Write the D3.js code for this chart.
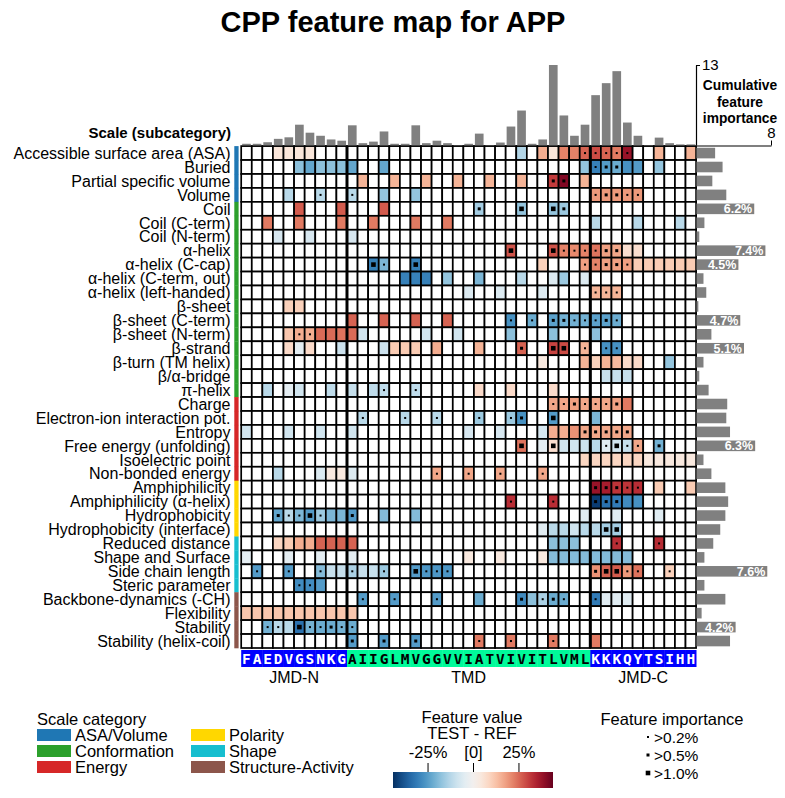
<!DOCTYPE html>
<html>
<head>
<meta charset="utf-8">
<script src="https://cdn.jsdelivr.net/npm/d3@7"></script>
<style>
body { margin: 0; background: #fff; }
text { font-family: Arial, "Liberation Sans", sans-serif; }
</style>
</head>
<body>
<div class="container"></div>
<script>
// sequence parts
const jmdN = ['F','A','E','D','V','G','S','N','K','G']
const tmd = ['A','I','I','G','L','M','V','G','G','V','V','I','A','T','V','I','V','I','T','L','V','M','L']
const jmdC = ['K','K','K','Q','Y','T','S','I','H','H']

const categories = ['ASA/Volume', 'Conformation', 'Energy', 'Polarity', 'Shape', 'Structure-Activity']
const categoryColors = ['#1f77b4', '#2ca02c', '#d62728', '#ffd700', '#17becf', '#8c564b']

const scales = ['Accessible surface area (ASA)', 'Buried', 'Partial specific volume', 'Volume',
  'Coil', 'Coil (C-term)', 'Coil (N-term)', 'α-helix', 'α-helix (C-cap)', 'α-helix (C-term, out)',
  'α-helix (left-handed)', 'β-sheet', 'β-sheet (C-term)', 'β-sheet (N-term)', 'β-strand',
  'β-turn (TM helix)', 'β/α-bridge', 'π-helix', 'Charge', 'Electron-ion interaction pot.',
  'Entropy', 'Free energy (unfolding)', 'Isoelectric point', 'Non-bonded energy', 'Amphiphilicity',
  'Amphiphilicity (α-helix)', 'Hydrophobicity', 'Hydrophobicity (interface)', 'Reduced distance',
  'Shape and Surface', 'Side chain length', 'Steric parameter', 'Backbone-dynamics (-CH)',
  'Flexibility', 'Stability', 'Stability (helix-coil)']

const scaleCategory = ['ASA/Volume','ASA/Volume','ASA/Volume','ASA/Volume',
  'Conformation','Conformation','Conformation','Conformation','Conformation','Conformation','Conformation',
  'Conformation','Conformation','Conformation','Conformation','Conformation','Conformation','Conformation',
  'Energy','Energy','Energy','Energy','Energy','Energy',
  'Polarity','Polarity','Polarity','Polarity',
  'Shape','Shape','Shape','Shape',
  'Structure-Activity','Structure-Activity','Structure-Activity','Structure-Activity']

// feature importance per scale (%)
const scaleImportance = [2.0, 2.8, 1.7, 3.2, 6.2, 0.85, 0.3, 7.4, 4.5, 0.75, 1.05, 0.2, 4.7, 1.6, 5.1,
  0.75, 0.3, 1.3, 3.3, 3.2, 3.6, 6.3, 0.75, 1.6, 3.1, 3.4, 3.1, 2.55, 1.8, 0.85, 7.6, 0.85, 3.1, 0.55, 4.2, 3.6]

// cumulative feature importance per residue position
const positionImportance = [0.2, 0.2, 0.45, 1.0, 1.25, 3.3, 2.0, 1.5, 0.9, 0.7, 3.2, 0.3, 0.55, 2.2, 0.2,
  0.2, 3.2, 0.3, 0.7, 0.3, 0, 0.2, 1.85, 0, 0.4, 3.0, 5.6, 0.2, 0.9, 13.0, 4.8, 1.5, 3.3, 8.1, 10.05,
  12.0, 3.65, 1.5, 0, 1.2, 0.3, 0.1, 0.1]

// [scale index, position, feature value (%), importance level]
const featureCells = [
  [0,3,5,0],[0,4,5,0],[0,5,5,0],[0,6,5,0],[0,26,-13,0],[0,28,16,0],[0,29,5,0],[0,30,22,0],[0,31,22,0],
  [0,32,26,1],[0,33,29,1],[0,34,26,1],[0,35,23,1],[0,36,38,1],[0,39,15,0],[0,42,15,0],
  [1,5,-18,0],[1,6,-23,0],[1,7,-18,0],[1,8,-18,0],[1,9,-18,0],[1,10,-23,0],[1,13,-23,0],[1,32,-17,0],
  [1,33,-30,1],[1,34,-25,2],[1,35,-22,2],[1,36,-27,0],[1,37,-25,0],[1,39,-17,0],
  [2,11,15,0],[2,14,15,0],[2,17,15,0],[2,20,15,0],[2,23,15,0],[2,26,15,0],[2,29,31,2],[2,30,41,2],[2,32,15,0],
  [3,4,-12,0],[3,7,-12,1],[3,10,-12,1],[3,13,-17,0],[3,16,-17,0],[3,33,19,1],[3,34,19,2],[3,35,19,2],
  [3,36,19,1],[3,37,19,1],
  [4,5,27,0],[4,9,27,0],[4,13,27,0],[4,22,-15,2],[4,26,-17,3],[4,29,-17,3],[4,30,-16,2],
  [5,2,23,0],[5,5,23,0],[5,9,23,0],[5,12,23,0],[5,16,23,0],[5,19,23,0],[5,33,-12,0],[5,37,-12,0],[5,41,-12,0],
  [6,3,-7,0],[6,6,-7,0],[6,10,-7,0],
  [7,25,28,3],[7,29,28,3],[7,30,22,1],[7,31,21,1],[7,32,22,1],[7,33,24,1],[7,34,18,2],[7,35,17,2],
  [7,36,7,0],[7,37,7,0],
  [8,12,-30,3],[8,13,-20,1],[8,16,-30,3],[8,28,10,0],[8,32,18,1],[8,33,22,1],[8,34,18,2],[8,35,18,2],
  [8,36,18,1],[8,37,11,0],[8,38,11,0],[8,39,11,0],[8,40,11,0],[8,41,11,0],[8,42,11,0],
  [9,15,-30,0],[9,16,-30,0],[9,17,-30,0],[9,19,-17,0],[9,22,-20,0],[9,26,-12,0],[9,29,-6,0],[9,30,-16,0],[9,32,-6,0],
  [10,21,-6,0],[10,24,-6,0],[10,28,-6,0],[10,33,15,1],[10,34,15,1],[10,35,15,1],
  [11,4,10,0],[11,5,10,0],
  [12,10,26,0],[12,13,26,0],[12,16,26,0],[12,19,26,0],[12,25,-27,1],[12,27,-22,1],[12,29,-24,2],
  [12,30,-21,2],[12,31,-21,1],[12,32,-21,1],[12,33,-24,1],[12,34,-24,2],[12,35,-22,1],
  [13,4,12,0],[13,5,16,1],[13,6,16,1],[13,7,25,0],[13,8,25,0],[13,9,24,0],[13,10,25,0],[13,11,-8,0],
  [13,17,-8,0],[13,20,-8,0],[13,25,-18,0],[13,29,-18,0],[13,33,-18,0],
  [14,4,8,0],[14,5,-4,0],[14,6,8,0],[14,9,-9,0],[14,13,-9,0],[14,14,11,0],[14,15,11,0],[14,16,11,0],
  [14,18,16,0],[14,22,15,0],[14,26,26,2],[14,29,30,3],[14,30,29,3],[14,32,15,1],[14,34,-27,1],[14,35,-27,1],
  [15,28,4,0],[15,32,15,0],[15,33,10,0],[15,34,15,0],[15,35,14,0],[15,36,8,0],[15,37,8,0],[15,40,-17,0],
  [16,34,-10,0],[16,35,-10,0],[16,36,-10,0],
  [17,2,-12,0],[17,4,-4,0],[17,5,-8,0],[17,8,-11,0],[17,10,-10,0],[17,12,-11,0],[17,13,-11,1],[17,16,-11,1],
  [17,22,8,0],[17,25,8,0],[17,29,8,0],
  [18,29,17,1],[18,30,17,1],[18,31,18,2],[18,32,17,1],[18,33,17,1],[18,34,17,1],[18,35,18,2],[18,36,23,0],
  [19,11,-12,1],[19,15,-12,1],[19,18,-12,1],[19,22,-16,1],[19,25,-16,1],[19,26,-27,2],[19,29,-25,3],[19,33,-20,0],
  [20,0,-8,0],[20,4,-8,0],[20,7,-8,0],[20,10,-8,0],[20,21,-7,0],[20,24,-7,0],[20,28,-7,0],[20,29,16,0],
  [20,30,16,0],[20,31,20,0],[20,32,17,2],[20,33,17,2],[20,34,17,2],[20,35,17,2],[20,36,17,2],
  [21,26,24,3],[21,28,-4,0],[21,29,7,3],[21,30,-8,0],[21,31,-8,0],[21,32,-9,0],[21,33,-12,0],[21,34,-5,1],
  [21,35,-8,3],[21,36,-10,1],[21,37,17,1],[21,39,-21,2],
  [22,32,9,0],[22,33,9,0],[22,34,9,0],[22,35,9,0],[22,36,9,0],[22,37,9,0],[22,38,4,0],[22,39,4,0],
  [22,40,4,0],[22,41,4,0],[22,42,4,0],
  [23,3,-12,0],[23,7,-6,0],[23,8,4,0],[23,9,4,0],[23,10,-6,0],[23,18,17,1],[23,21,17,1],[23,24,17,1],[23,28,17,1],
  [24,33,38,2],[24,34,36,2],[24,35,32,2],[24,36,32,1],[24,37,33,1],[24,39,11,0],[24,42,11,0],
  [25,25,33,1],[25,29,33,1],[25,33,-42,2],[25,34,-33,2],[25,35,-31,2],[25,36,-28,0],[25,37,-27,0],
  [26,3,-23,2],[26,4,-12,1],[26,5,-20,1],[26,6,-25,3],[26,7,-16,1],[26,8,-20,0],[26,9,-20,0],[26,10,-25,2],
  [26,13,-19,0],[26,16,-19,0],[26,32,-5,0],[26,35,-5,0],[26,39,-5,0],
  [27,28,-5,0],[27,29,-12,0],[27,30,-12,0],[27,31,-8,0],[27,32,-12,0],[27,33,-12,0],[27,34,-15,3],[27,35,-15,3],
  [28,3,9,0],[28,4,11,0],[28,5,16,0],[28,6,16,0],[28,7,26,0],[28,8,26,0],[28,9,26,0],[28,10,26,0],
  [28,29,-18,0],[28,30,-18,0],[28,31,-18,0],[28,35,33,1],[28,39,33,1],
  [29,0,-4,0],[29,4,-4,0],[29,7,-4,0],[29,10,-4,0],[29,21,4,0],[29,24,4,0],[29,28,4,0],[29,29,-19,0],
  [29,30,-19,0],[29,31,-19,0],[29,32,-19,0],[29,33,-19,0],[29,34,-19,0],[29,35,-19,0],[29,36,-19,0],
  [30,1,-25,1],[30,4,-25,1],[30,7,-19,1],[30,8,-10,0],[30,9,-10,0],[30,10,-14,1],[30,11,-10,0],[30,12,-10,0],
  [30,13,-16,1],[30,16,-25,3],[30,17,-26,1],[30,18,-26,1],[30,19,-26,1],[30,33,20,2],[30,34,26,3],
  [30,35,27,3],[30,36,19,1],[30,37,24,1],[30,40,10,1],
  [31,5,-28,1],[31,6,-28,1],[31,7,-25,0],
  [32,11,-25,1],[32,14,-25,1],[32,18,-25,1],[32,22,-22,0],[32,26,-28,2],[32,27,-18,0],[32,28,-14,1],
  [32,29,-22,2],[32,30,-22,1],[32,33,-31,1],[32,34,-5,0],[32,35,-5,0],[32,36,-5,0],
  [33,0,12,0],[33,1,12,0],[33,2,12,0],[33,3,12,0],[33,4,12,0],[33,5,12,0],[33,6,12,0],[33,7,12,0],
  [33,8,12,0],[33,9,12,0],[33,10,12,0],
  [34,2,-21,1],[34,3,-12,1],[34,4,-12,0],[34,5,-33,3],[34,6,-21,1],[34,7,-22,1],[34,8,-22,2],[34,9,-21,1],[34,10,-22,1],
  [35,10,-25,2],[35,13,-25,2],[35,16,-25,2],[35,22,23,1],[35,25,23,1],[35,29,23,1],[35,33,23,0]
]

const importanceLabels = ['>0.2%', '>0.5%', '>1.0%']
const colorbarTicks = [-25, 0, 25]

const width = 785
const height = 798
const sequence = jmdN.concat(tmd, jmdC)

const svg = d3.select('.container')
  .append('svg')
  .attr('width', width)
  .attr('height', height)

svg.append('rect').attr('width', width).attr('height', height).attr('fill', '#fff')

const x = d3.scaleBand().domain(d3.range(sequence.length)).range([241.2, 696.1])
const y = d3.scaleBand().domain(d3.range(scales.length)).range([146.1, 648])
const color = d3.scaleDiverging(t => d3.interpolateRdBu(1 - t)).domain([-44, 0, 44])
const catColor = d3.scaleOrdinal().domain(categories).range(categoryColors)
const yTop = d3.scaleLinear().domain([0, 13]).range([145, 65])
const xRight = d3.scaleLinear().domain([0, 8]).range([696.5, 771])
const markSize = [2, 3, 4.6]

// title
svg.append('text')
  .attr('x', 393).attr('y', 32)
  .attr('text-anchor', 'middle')
  .style('font-size', '29px').style('font-weight', 'bold')
  .text('CPP feature map for APP')

svg.append('text')
  .attr('x', 231).attr('y', 138)
  .attr('text-anchor', 'end')
  .style('font-size', '15px').style('font-weight', 'bold')
  .text('Scale (subcategory)')

// row labels
svg.selectAll('.rowlabel')
  .data(scales)
  .join('text')
  .attr('x', 230.5)
  .attr('y', (d, i) => y(i) + y.bandwidth() / 2)
  .attr('dy', '0.36em')
  .attr('text-anchor', 'end')
  .style('font-size', '16px')
  .text(d => d)

// category strip
svg.selectAll('.catstrip')
  .data(scaleCategory)
  .join('rect')
  .attr('x', 234.3)
  .attr('y', (d, i) => y(i))
  .attr('width', 4.3)
  .attr('height', y.bandwidth() + 0.3)
  .attr('fill', d => catColor(d))

// heatmap grid
const cellLookup = new Map(featureCells.map(d => [d[0] + '-' + d[1], d]))
const allCells = []
scales.forEach((s, i) => sequence.forEach((a, j) => allCells.push([i, j])))

svg.append('g')
  .selectAll('rect')
  .data(allCells)
  .join('rect')
  .attr('x', d => x(d[1]))
  .attr('y', d => y(d[0]))
  .attr('width', x.bandwidth())
  .attr('height', y.bandwidth())
  .attr('fill', d => {
    let c = cellLookup.get(d[0] + '-' + d[1])
    return c ? color(c[2]) : '#fff'
  })
  .attr('stroke', '#000')
  .attr('stroke-width', 1.7)

// importance markers
svg.append('g')
  .selectAll('rect')
  .data(featureCells.filter(d => d[3] > 0))
  .join('rect')
  .attr('x', d => x(d[1]) + x.bandwidth() / 2 - markSize[d[3] - 1] / 2)
  .attr('y', d => y(d[0]) + y.bandwidth() / 2 - markSize[d[3] - 1] / 2)
  .attr('width', d => markSize[d[3] - 1])
  .attr('height', d => markSize[d[3] - 1])
  .attr('fill', '#000')

// TMD borders
svg.selectAll('.tmdline')
  .data([jmdN.length, jmdN.length + tmd.length])
  .join('line')
  .attr('x1', d => x(d)).attr('x2', d => x(d))
  .attr('y1', y(0)).attr('y2', y(scales.length - 1) + y.bandwidth())
  .attr('stroke', '#000')
  .attr('stroke-width', 3)

// top bars
svg.append('g')
  .selectAll('rect')
  .data(positionImportance)
  .join('rect')
  .attr('x', (d, i) => x(i) + x.bandwidth() * 0.09)
  .attr('y', d => yTop(d))
  .attr('width', x.bandwidth() * 0.82)
  .attr('height', d => yTop(0) - yTop(d))
  .attr('fill', '#808080')

const topAxis = svg.append('g')
  .attr('transform', 'translate(696,0)')
  .call(d3.axisRight(yTop).tickValues([13]).tickSize(4).tickSizeOuter(0))
topAxis.selectAll('text').style('font-size', '15px').attr('x', 6)
topAxis.select('.domain').attr('stroke-width', 1.2)

// right bars
svg.append('g')
  .selectAll('rect')
  .data(scaleImportance)
  .join('rect')
  .attr('x', xRight(0))
  .attr('y', (d, i) => y(i) + y.bandwidth() * 0.12)
  .attr('width', d => xRight(d) - xRight(0))
  .attr('height', y.bandwidth() * 0.76)
  .attr('fill', '#808080')

svg.append('g')
  .selectAll('text')
  .data(scaleImportance.map((d, i) => [d, i]).filter(d => d[0] > 4))
  .join('text')
  .attr('x', d => xRight(d[0]) - 2)
  .attr('y', d => y(d[1]) + y.bandwidth() / 2)
  .attr('dy', '0.36em')
  .attr('text-anchor', 'end')
  .attr('fill', '#fff')
  .style('font-size', '12.5px').style('font-weight', 'bold')
  .text(d => d[0].toFixed(1) + '%')

const rightAxis = svg.append('g')
  .attr('transform', 'translate(0,145.5)')
  .call(d3.axisTop(xRight).tickValues([8]).tickSize(5).tickSizeOuter(0))
rightAxis.selectAll('text').style('font-size', '15px')
rightAxis.select('.domain').attr('stroke-width', 1.2)

svg.append('text')
  .attr('x', 740).attr('y', 85)
  .attr('text-anchor', 'middle')
  .style('font-size', '13.8px').style('font-weight', 'bold')
  .selectAll('tspan')
  .data(['Cumulative', 'feature', 'importance'])
  .join('tspan')
  .attr('x', 740)
  .attr('dy', (d, i) => i ? 16.5 : 5)
  .text(d => d)

// sequence bar
const seqY = 650
svg.append('g')
  .selectAll('rect')
  .data(sequence)
  .join('rect')
  .attr('x', (d, i) => x(i))
  .attr('y', seqY)
  .attr('width', x.bandwidth() + 0.4)
  .attr('height', 17)
  .attr('fill', (d, i) => (i >= jmdN.length && i < jmdN.length + tmd.length) ? '#00fa9a' : '#0000ff')

svg.append('g')
  .selectAll('text')
  .data(sequence)
  .join('text')
  .attr('x', (d, i) => x(i) + x.bandwidth() / 2)
  .attr('y', seqY + 8.5)
  .attr('dy', '0.36em')
  .attr('text-anchor', 'middle')
  .attr('fill', (d, i) => (i >= jmdN.length && i < jmdN.length + tmd.length) ? '#000' : '#fff')
  .style('font-family', '"DejaVu Sans Mono", monospace')
  .style('font-size', '14.5px').style('font-weight', 'bold')
  .text(d => d)

const parts = [['JMD-N', 0, jmdN.length], ['TMD', jmdN.length, jmdN.length + tmd.length],
  ['JMD-C', jmdN.length + tmd.length, sequence.length]]
svg.selectAll('.partlabel')
  .data(parts)
  .join('text')
  .attr('x', d => (x(d[1]) + x(d[2] - 1) + x.bandwidth()) / 2)
  .attr('y', 683)
  .attr('text-anchor', 'middle')
  .style('font-size', '16px')
  .text(d => d[0])

// legend: scale category
svg.append('text')
  .attr('x', 37).attr('y', 725)
  .style('font-size', '16.5px')
  .text('Scale category')

const catLegend = svg.append('g')
  .selectAll('g')
  .data(categories)
  .join('g')
  .attr('transform', (d, i) => `translate(${i < 3 ? 37 : 191},${735 + (i % 3) * 16})`)
catLegend.append('rect')
  .attr('x', 0).attr('y', -6)
  .attr('width', 34).attr('height', 12)
  .attr('fill', d => catColor(d))
catLegend.append('text')
  .attr('x', 38).attr('dy', '0.36em')
  .style('font-size', '16.5px')
  .text(d => d)

// legend: feature value
svg.append('text')
  .attr('x', 472).attr('y', 723)
  .attr('text-anchor', 'middle')
  .style('font-size', '16.5px')
  .text('Feature value')
svg.append('text')
  .attr('x', 472).attr('y', 739)
  .attr('text-anchor', 'middle')
  .style('font-size', '16.5px')
  .text('TEST - REF')

const xBar = d3.scaleLinear().domain([-44, 44]).range([393, 553])
const grad = svg.append('defs').append('linearGradient').attr('id', 'cbar')
d3.range(0, 1.0001, 0.05).forEach(t => {
  grad.append('stop')
    .attr('offset', t)
    .attr('stop-color', color(-44 + 88 * t))
})
svg.append('rect')
  .attr('x', xBar(-44)).attr('y', 772)
  .attr('width', xBar(44) - xBar(-44)).attr('height', 16)
  .attr('fill', 'url(#cbar)')

const barAxis = svg.append('g')
  .attr('transform', 'translate(0,772)')
  .call(d3.axisTop(xBar).tickValues(colorbarTicks).tickSize(9)
    .tickFormat(d => d === 0 ? '[0]' : d + '%'))
barAxis.select('.domain').remove()
barAxis.selectAll('text').style('font-size', '16.5px').attr('y', -14)

// legend: feature importance
svg.append('text')
  .attr('x', 672).attr('y', 725)
  .attr('text-anchor', 'middle')
  .style('font-size', '16.5px')
  .text('Feature importance')

const impLegend = svg.append('g')
  .selectAll('g')
  .data(importanceLabels)
  .join('g')
  .attr('transform', (d, i) => `translate(648,${737 + i * 18})`)
impLegend.append('rect')
  .attr('x', (d, i) => -markSize[i] / 2)
  .attr('y', (d, i) => -markSize[i] / 2)
  .attr('width', (d, i) => markSize[i])
  .attr('height', (d, i) => markSize[i])
  .attr('fill', '#000')
impLegend.append('text')
  .attr('x', 6).attr('dy', '0.36em')
  .style('font-size', '15.5px')
  .text(d => d)
</script>
</body>
</html>
